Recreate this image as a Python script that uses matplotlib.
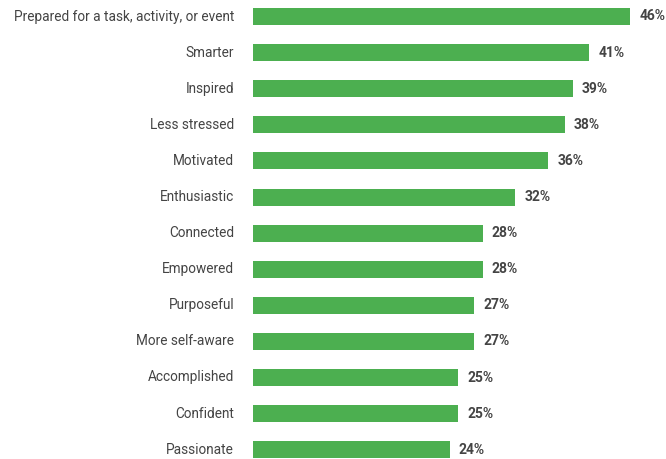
import matplotlib
matplotlib.use("Agg")
import matplotlib.pyplot as plt

categories = ["Prepared for a task, activity, or event", "Smarter", "Inspired",
              "Less stressed", "Motivated", "Enthusiastic", "Connected", "Empowered",
              "Purposeful", "More self-aware", "Accomplished", "Confident", "Passionate"]
values = [46, 41, 39, 38, 36, 32, 28, 28, 27, 27, 25, 25, 24]

plt.rcParams['font.family'] = ['Roboto', 'DejaVu Sans']

W, H = 666, 459
fig = plt.figure(figsize=(W/100, H/100), dpi=100)
left_px = 253
px_per_pct = 8.2
xmax = (W - left_px) / px_per_pct
ax = fig.add_axes([left_px / W, 0, 1 - left_px / W, 1])
pitch = 36.1
top_c = 16.5
ax.set_ylim((H - top_c) / pitch, -top_c / pitch)
ax.set_xlim(0, xmax)

ypos = list(range(len(categories)))
ax.barh(ypos, values, height=17 / pitch, color="#4CAF50")
for y, v, c in zip(ypos, values, categories):
    ax.text(v + 9 / px_per_pct, y, f"{v}%", va="center", ha="left",
            fontsize=10, fontweight="bold", color="#444444")
    ax.text(-19 / px_per_pct, y, c, va="center", ha="right",
            fontsize=9.8, color="#444444", clip_on=False)
ax.axis("off")
fig.savefig("out.png", dpi=100)
